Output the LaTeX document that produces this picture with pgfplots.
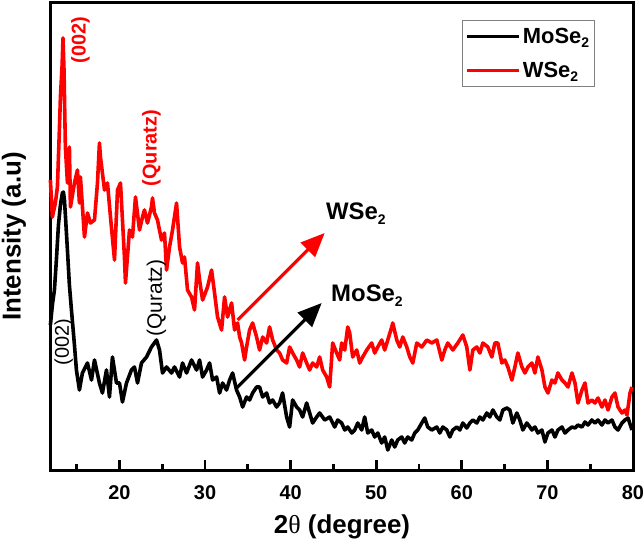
\documentclass[border=0pt]{standalone}
\usepackage{fontspec}
\setmainfont{Liberation Sans}
\newfontfamily\thetafont{Liberation Serif}
\usepackage{pgfplots}
\pgfplotsset{compat=1.18}
\usetikzlibrary{arrows.meta}
\definecolor{myred}{RGB}{255,0,0}
\newcommand{\sub}[1]{\raisebox{-0.35ex}{\fontsize{14}{16}\selectfont #1}}
\begin{document}
\begin{tikzpicture}
\path[use as bounding box] (-51bp,-71bp) rectangle (593bp,470bp);
\begin{axis}[
  at={(0,0)}, anchor=south west,
  scale only axis, width=582bp, height=467bp,
  xmin=12, xmax=80, ymin=0, ymax=467,
  axis line style={line width=3bp},
  xtick={20,30,40,50,60,70,80},
  minor xtick={15,25,35,45,55,65,75},
  ytick=\empty,
  xtick pos=bottom,
  tick align=inside,
  major tick length=10bp, minor tick length=6bp,
  every tick/.style={black, line width=2.8bp},
  /pgf/number format/assume math mode=true,
  xticklabel style={font=\fontsize{20}{24}\selectfont\bfseries, yshift=-12bp},
  legend style={at={(0.706,0.964)}, anchor=north west, draw=gray, line width=0.8bp,
    font=\fontsize{22}{26}\selectfont\bfseries, inner xsep=3bp, inner ysep=6bp, row sep=13bp,
    cells={anchor=west}},
  legend image code/.code={\draw[#1, line width=3.6bp] (0bp,0bp) -- (52bp,0bp);},
  clip=false,
]
\addplot[black, line width=3.6bp, line join=round] coordinates {
(11.93,145) (12.16,165) (12.40,180) (12.63,210) (12.87,245) (13.10,265) (13.33,277) (13.45,278) (13.57,270) (13.68,255) (13.92,220) (14.15,185) (14.39,160) (14.74,125) (14.97,100) (15.32,80) (15.67,97) (16.26,107) (16.73,90) (17.08,110) (17.66,87) (18.01,77) (18.48,100) (18.83,73) (19.18,113) (19.65,87) (20.00,87) (20.35,68) (20.82,87) (21.40,100) (21.75,103) (22.11,87) (22.57,107) (23.16,113) (23.74,123) (24.33,130) (24.68,120) (25.03,97) (25.50,103) (26.08,97) (26.43,103) (27.02,93) (27.37,107) (27.84,97) (28.42,110) (29.01,100) (29.36,110) (29.71,93) (30.18,100) (30.53,107) (30.88,90) (31.35,93) (31.70,77) (32.05,87) (32.51,80) (32.87,90) (33.22,97) (33.68,80) (34.04,73) (34.39,63) (34.85,73) (35.20,70) (35.56,77) (36.02,83) (36.37,83) (36.73,73) (37.19,77) (37.54,67) (37.90,70) (38.36,63) (38.71,67) (39.06,77) (39.53,53) (39.88,43) (40.23,70) (40.70,63) (41.05,60) (41.40,53) (41.87,67) (42.22,57) (42.57,47) (43.04,53) (43.39,57) (43.98,50) (44.56,53) (45.15,43) (45.50,50) (45.96,47) (46.32,40) (46.67,43) (47.14,37) (47.49,40) (47.84,47) (48.30,40) (48.65,53) (49.01,37) (49.47,40) (49.82,33) (50.18,37) (50.64,27) (50.99,33) (51.35,20) (51.81,30) (52.16,23) (52.51,30) (52.98,33) (53.33,27) (53.68,33) (54.15,30) (54.50,37) (54.85,40) (55.32,47) (55.67,52) (56.02,43) (56.49,40) (57.08,43) (57.43,37) (57.78,43) (58.25,40) (58.60,33) (58.95,40) (59.42,43) (59.77,40) (60.12,47) (60.58,42) (60.94,47) (61.29,50) (61.75,47) (62.11,53) (62.46,50) (62.92,57) (63.27,53) (63.63,60) (64.09,53) (64.44,50) (64.80,60) (65.26,62) (65.61,60) (65.96,47) (66.43,57) (66.78,50) (67.13,40) (67.60,47) (67.95,43) (68.19,40) (68.54,43) (68.89,37) (69.36,40) (69.71,28) (70.06,37) (70.53,40) (70.88,33) (71.23,40) (71.70,43) (72.05,37) (72.40,40) (72.87,43) (73.22,42) (73.57,45) (74.04,43) (74.39,48) (74.74,45) (75.20,50) (75.56,47) (75.91,50) (76.37,45) (76.73,50) (77.08,47) (77.54,50) (77.89,43) (78.25,40) (78.71,47) (79.06,50) (79.42,52) (79.88,40)
};
\addlegendentry{MoSe\sub{2}}
\addplot[myred, line width=3.6bp, line join=round] coordinates {
(11.93,290) (12.16,253) (12.51,267) (12.75,283) (12.98,340) (13.10,373) (13.30,405) (13.40,432) (13.52,400) (13.68,323) (13.92,287) (14.15,323) (14.27,263) (14.74,287) (15.09,300) (15.32,267) (15.44,293) (15.91,233) (16.26,257) (16.61,247) (17.08,250) (17.43,287) (17.66,327) (17.78,313) (18.25,280) (18.60,287) (18.95,253) (19.42,210) (19.77,280) (20.12,287) (20.58,213) (20.70,187) (21.17,240) (21.52,233) (21.87,273) (22.34,240) (22.69,253) (22.92,260) (23.27,247) (23.74,263) (23.86,272) (24.09,257) (24.44,250) (24.91,230) (25.26,237) (25.50,200) (25.85,223) (26.20,240) (26.67,267) (26.78,253) (27.02,223) (27.37,207) (27.60,213) (27.95,180) (28.42,173) (28.77,160) (29.12,207) (29.36,190) (29.71,170) (30.29,183) (30.76,200) (31.11,177) (31.46,153) (31.93,140) (32.28,173) (32.63,153) (33.10,167) (33.45,140) (33.80,147) (34.04,133) (34.27,127) (34.62,110) (34.85,123) (35.20,140) (35.56,147) (36.02,133) (36.37,120) (36.73,133) (37.19,127) (37.54,143) (37.90,130) (38.36,120) (38.71,117) (39.06,110) (39.53,107) (39.88,123) (40.23,117) (40.70,110) (41.05,103) (41.40,117) (41.87,107) (42.22,100) (42.57,107) (43.04,103) (43.39,113) (43.74,100) (44.21,93) (44.56,83) (44.91,127) (45.38,117) (45.73,110) (45.96,127) (46.32,120) (46.67,143) (46.90,137) (47.25,113) (47.72,120) (48.07,107) (48.42,113) (48.89,120) (49.47,127) (49.82,117) (50.18,123) (50.64,130) (50.99,120) (51.35,130) (51.81,143) (51.93,147) (52.40,130) (52.75,123) (53.10,133) (53.57,123) (53.92,113) (54.27,107) (54.74,127) (55.32,123) (55.91,130) (56.49,127) (57.08,130) (57.66,110) (58.01,120) (58.36,127) (58.95,120) (59.53,127) (60.12,135) (60.58,123) (60.94,100) (61.29,120) (61.75,123) (62.11,117) (62.46,127) (63.04,123) (63.51,113) (63.86,127) (64.21,127) (64.68,107) (65.03,110) (65.38,103) (65.85,90) (66.20,103) (66.55,117) (67.02,103) (67.37,97) (67.72,103) (68.19,107) (68.54,97) (68.89,113) (69.36,100) (69.71,83) (70.06,77) (70.53,90) (70.88,87) (71.23,97) (71.70,90) (72.05,87) (72.40,83) (72.87,97) (73.22,87) (73.57,67) (74.04,80) (74.39,87) (74.74,67) (75.20,70) (75.56,67) (75.91,72) (76.37,63) (76.73,70) (77.08,60) (77.54,73) (77.89,77) (78.25,63) (78.71,57) (79.06,60) (79.30,55) (79.65,77) (79.88,83)
};
\addlegendentry{WSe\sub{2}}
% arrows
\draw[myred, line width=3.2bp, -{Triangle[width=20bp,length=24bp]}] (axis cs:33.80,150) -- (axis cs:43.98,237);
\draw[black, line width=3.2bp, -{Triangle[width=20bp,length=24bp]}] (axis cs:33.68,82) -- (axis cs:43.63,167);
% annotations
\node[anchor=base west, font=\fontsize{24}{28}\selectfont\bfseries] at (axis cs:43.74,250) {WSe\sub{2}};
\node[anchor=base west, font=\fontsize{24}{28}\selectfont\bfseries] at (axis cs:44.33,168) {MoSe\sub{2}};
\node[rotate=90, text=myred, font=\fontsize{20}{24}\selectfont\bfseries] at (axis cs:15.44,430) {(002)};
\node[rotate=90, text=myred, font=\fontsize{20}{24}\selectfont\bfseries] at (axis cs:23.74,322) {(Quratz)};
\node[rotate=90, text=black, font=\fontsize{20}{24}\selectfont] at (axis cs:13.50,128) {(002)};
\node[rotate=90, text=black, font=\fontsize{21}{24}\selectfont] at (axis cs:24.33,172) {(Quratz)};
% axis labels
\node[font=\fontsize{26}{30}\selectfont\bfseries] at (rel axis cs:0.5,-0.122) {2{\thetafont\mdseries θ} (degree)};
\node[rotate=90, font=\fontsize{26}{30}\selectfont\bfseries] at (rel axis cs:-0.0636,0.5) {Intensity (a.u)};
\end{axis}
\end{tikzpicture}
\end{document}
